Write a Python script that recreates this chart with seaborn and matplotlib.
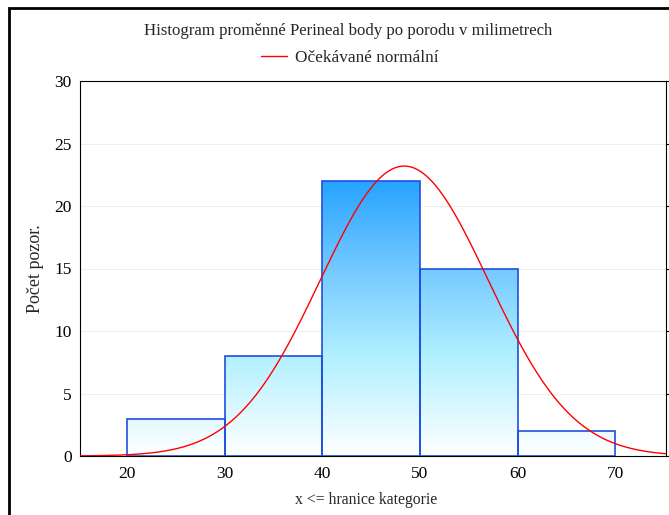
import numpy as np
import pandas as pd
import seaborn as sns
import matplotlib.pyplot as plt
from matplotlib.colors import LinearSegmentedColormap
from matplotlib.patches import Rectangle

# Histogram data: class boundaries and observed counts
bin_edges = [20, 30, 40, 50, 60, 70]
counts = [3, 8, 22, 15, 2]

# Fitted normal curve parameters (mean, standard deviation)
curve_mean = 48.4
curve_sd = 8.6

title = "Histogram proměnné Perineal body po porodu v milimetrech"
legend_label = "Očekávané normální"
x_label = "x <= hranice kategorie"
y_label = "Počet pozor."
x_ticks = [20, 30, 40, 50, 60, 70]
y_ticks = [0, 5, 10, 15, 20, 25, 30]

sns.set_theme(style="white")
plt.rcParams['font.family'] = ['Liberation Serif', 'DejaVu Serif']

W, H = 669, 515
fig = plt.figure(figsize=(W / 100, H / 100), dpi=100)
ax = fig.add_axes([80 / W, 1 - 456 / H, 586 / W, 375 / H])

centres = [(a + b) / 2 for a, b in zip(bin_edges[:-1], bin_edges[1:])]
df = pd.DataFrame({"mid": centres, "count": counts})

sns.histplot(data=df, x="mid", weights="count", bins=bin_edges, ax=ax,
             edgecolor="#1e4fe0", linewidth=1.2, zorder=3)

xlim = (15.2, 75.2)
ylim = (0, 30)

# vertical gradient fill: white at zero, deep blue near the tallest bar
cmap = LinearSegmentedColormap.from_list(
    "bargrad",
    [(0.0, "#ffffff"), (0.36, "#b2f0ff"), (0.68, "#74c9ff"), (1.0, "#27a3ff")])
grad = np.linspace(0, 1, 256).reshape(-1, 1)
top = max(counts)
for patch in list(ax.patches):
    patch.set_facecolor("none")
    img = ax.imshow(grad, extent=[xlim[0], xlim[1], 0, top], origin="lower",
                    cmap=cmap, aspect="auto", zorder=2, interpolation="bilinear")
    img.set_clip_path(patch)

# expected normal frequencies scaled to counts per class
n_obs = sum(counts)
width = bin_edges[1] - bin_edges[0]
xs = np.linspace(xlim[0], xlim[1], 500)
ys = n_obs * width * np.exp(-0.5 * ((xs - curve_mean) / curve_sd) ** 2) / (curve_sd * np.sqrt(2 * np.pi))
sns.lineplot(x=xs, y=ys, ax=ax, color="#ff0000", linewidth=1.0, zorder=4,
             label=legend_label, legend=False)

ax.set_xlim(*xlim)
ax.set_ylim(*ylim)
ax.set_xticks(x_ticks)
ax.set_yticks(y_ticks)
ax.tick_params(axis="both", labelsize=12.5, colors="black")
ax.tick_params(axis="x", direction="out", length=3, width=0.8, pad=4)
ax.tick_params(axis="y", left=False, right=True, labelleft=True, labelright=False,
               direction="out", length=3, width=0.8, pad=3)

ax.yaxis.grid(True, color="#eeeeee", linewidth=0.8)
ax.set_axisbelow(True)
for side in ["top", "left", "right", "bottom"]:
    ax.spines[side].set_visible(True)
    ax.spines[side].set_color("black")
    ax.spines[side].set_linewidth(0.8)

ax.set_xlabel(x_label, fontsize=11.3)
ax.set_ylabel(y_label, fontsize=13)
ax.xaxis.set_label_coords((366 - 80) / 586, (456 - 500) / 375)
ax.yaxis.set_label_coords((36 - 80) / 586, 0.5)
ax.xaxis.label.set_va("center")
ax.yaxis.label.set_va("center")

fig.text(348 / W, 1 - 31 / H, title, ha="center", va="center", fontsize=12.1)
handles, labels = ax.get_legend_handles_labels()
fig.legend(handles, labels, loc="center", bbox_to_anchor=(350 / W, 1 - 58 / H),
           frameon=False, fontsize=12.4, handlelength=1.5, handletextpad=0.45)

# outer frame of the graph window
fig.patches.append(Rectangle((9 / W, -0.1), 1.2, (1 - 8 / H) + 0.1,
                             transform=fig.transFigure, fill=False,
                             edgecolor="black", linewidth=2.0))

fig.savefig("out.png", dpi=100)
